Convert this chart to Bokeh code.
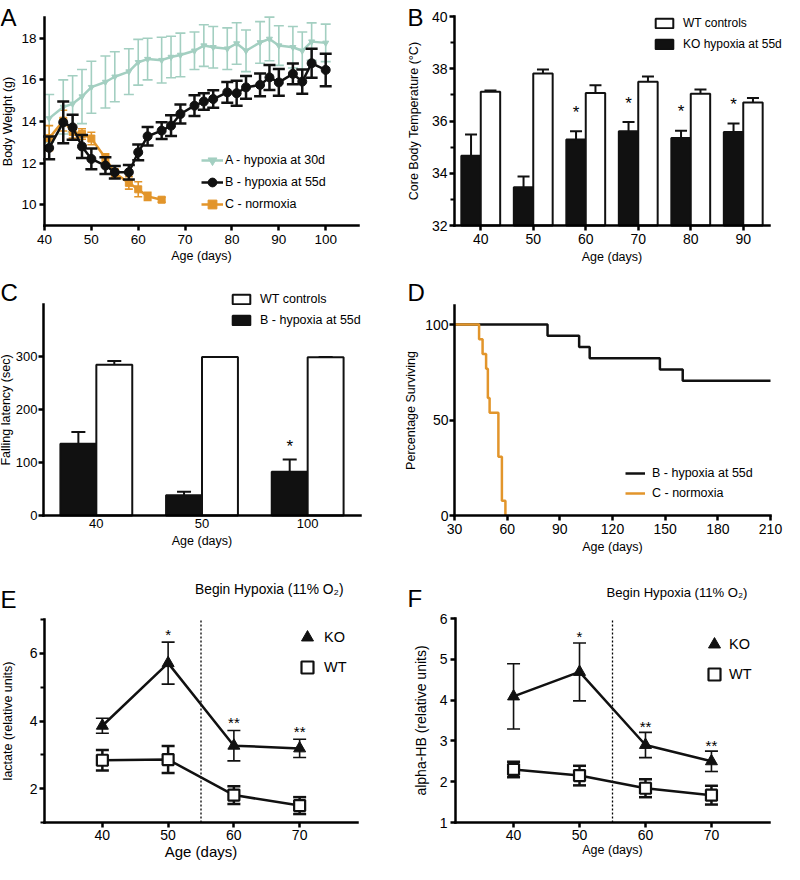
import numpy as np
from bokeh.plotting import figure
from bokeh.models import (ColumnDataSource, Whisker, TeeHead, Legend, LegendItem,
                          Label, FixedTicker, Range1d)
from bokeh.transform import dodge
from bokeh.layouts import column, row
from bokeh.embed import file_html
from bokeh.resources import INLINE
from bokeh.core.properties import value

FONT = "Liberation Sans"
TEAL = "#a3cfc1"
ORANGE = "#e2952b"
INK = "#111111"

# ---------------- Panel A: body weight ----------------
weight_days = [41, 44, 46, 48, 50, 53, 55, 58, 60, 62, 65, 67, 69, 72, 74, 76, 79, 81, 83, 86, 88, 90, 93, 95, 97, 100]
weight_a = [14.15, 14.7, 14.85, 15.2, 15.65, 15.9, 16.15, 16.4, 16.85, 17.0, 16.95, 17.1, 17.2,
            17.4, 17.65, 17.57, 17.5, 17.75, 17.4, 17.8, 17.97, 17.65, 17.57, 17.4, 17.84, 17.78]
weight_a_sem = [1.15, 1.3, 1.35, 1.3, 1.25, 1.25, 1.2, 1.1, 1.1, 1.0, 1.1, 1.0, 1.05,
                0.9, 1.0, 1.0, 1.0, 1.0, 1.0, 1.0, 1.05, 0.95, 1.0, 0.9, 0.9, 0.9]
weight_b = [12.73, 13.96, 13.72, 12.8, 12.2, 11.88, 11.56, 11.56, 12.52, 13.29, 13.56, 13.8, 14.36,
            14.76, 14.96, 15.08, 15.4, 15.36, 15.64, 15.76, 16.12, 15.88, 16.29, 15.92, 16.8, 16.48]
weight_b_sem = [0.55, 1.0, 0.6, 0.55, 0.5, 0.4, 0.3, 0.35, 0.38, 0.44, 0.4, 0.5, 0.46,
                0.5, 0.4, 0.42, 0.5, 0.6, 0.55, 0.55, 0.6, 0.64, 0.5, 0.58, 0.7, 0.78]
weight_days_c = [41, 44, 46, 48, 50, 53, 55, 58, 60, 62, 65]
weight_c = [13.2, 14.04, 13.5, 13.4, 13.18, 12.25, 11.52, 11.05, 10.74, 10.4, 10.24]
weight_c_sem = [0.6, 0.5, 0.3, 0.25, 0.3, 0.2, 0.2, 0.3, 0.36, 0.2, 0.12]
weight_xlim = (40, 107)
weight_ylim = (9, 19)
weight_xticks = [40, 50, 60, 70, 80, 90, 100]
weight_yticks = [10, 12, 14, 16, 18]

# ---------------- Panel B: core body temperature ----------------
temp_ages = [40, 50, 60, 70, 80, 90]
temp_wt = [37.12, 37.82, 37.07, 37.5, 37.04, 36.71]
temp_wt_sem = [0.05, 0.15, 0.3, 0.2, 0.17, 0.17]
temp_ko = [34.67, 33.46, 35.29, 35.61, 35.35, 35.58]
temp_ko_sem = [0.81, 0.42, 0.32, 0.35, 0.28, 0.32]
temp_sig = ["", "", "*", "*", "*", "*"]
temp_xlim = (35, 95)
temp_ylim = (32, 40)
temp_yticks = [32, 34, 36, 38, 40]
temp_yminor = [33, 35, 37, 39]

# ---------------- Panel C: falling latency ----------------
lat_ages = ["40", "50", "100"]
lat_wt = [285.0, 300.0, 299.4]
lat_wt_sem = [7.0, 0.0, 0.6]
lat_ko = [135.8, 38.5, 82.7]
lat_ko_sem = [22.0, 6.3, 23.0]
lat_sig = ["", "", "*"]
lat_ylim = (0, 400)
lat_yticks = [0, 100, 200, 300]

# ---------------- Panel D: survival ----------------
surv_b_days = [30, 83, 101, 107, 147, 160, 210]
surv_b_pct = [100, 94.1, 88.2, 82.4, 76.5, 70.6, 70.6]
surv_c_days = [30, 44, 46, 48, 49, 50, 55, 57, 59]
surv_c_pct = [100, 92.3, 84.6, 76.9, 61.5, 53.8, 30.8, 7.7, 0]
surv_xlim = (30, 210)
surv_ylim = (0, 110)
surv_xticks = [30, 60, 90, 120, 150, 180, 210]
surv_yticks = [0, 50, 100]

# ---------------- Panels E / F: metabolites ----------------
met_days = [40, 50, 60, 70]
met_xlim = (31.2, 78.8)
hypoxia_start = 55
lac_ko = [3.86, 5.71, 3.27, 3.19]
lac_ko_sem = [0.22, 0.62, 0.45, 0.27]
lac_wt = [2.84, 2.86, 1.81, 1.5]
lac_wt_sem = [0.3, 0.4, 0.26, 0.25]
lac_ylim = (1, 7)
ahb_ko = [4.09, 4.69, 2.9, 2.5]
ahb_ko_sem = [0.8, 0.71, 0.31, 0.25]
ahb_wt = [2.3, 2.15, 1.84, 1.67]
ahb_wt_sem = [0.19, 0.24, 0.22, 0.23]
ahb_ylim = (1, 6)
met_sig = ["", "*", "**", "**"]
met_xticks = [40, 50, 60, 70]


class Panel:
    """A figure whose frame fills the whole canvas; the axes sit at fixed data
    locations so that letters, legends and notes around them are not clipped."""

    def __init__(self, ox, oy, W, H, box, xlim, ylim):
        l, r, t, b = box
        sx = (xlim[1] - xlim[0]) / (r - l)
        sy = (ylim[1] - ylim[0]) / (b - t)
        xr = Range1d(xlim[0] - (l - ox) * sx, xlim[1] + (ox + W - r) * sx)
        yr = Range1d(ylim[0] - (oy + H - b) * sy, ylim[1] + (t - oy) * sy)
        p = figure(width=W, height=H, x_range=xr, y_range=yr,
                   output_backend="svg", toolbar_location=None,
                   min_border=0, min_border_left=0, min_border_right=0,
                   min_border_top=0, min_border_bottom=0)
        p.outline_line_color = None
        p.xgrid.grid_line_color = None
        p.ygrid.grid_line_color = None
        p.background_fill_color = "white"
        p.border_fill_color = "white"
        p.xaxis.fixed_location = ylim[0]
        p.xaxis.bounds = xlim
        p.yaxis.fixed_location = xlim[0]
        p.yaxis.bounds = ylim
        self.p, self.ox, self.oy, self.H = p, ox, oy, H

    def sx(self, x):
        return x - self.ox

    def sy(self, y):
        return self.oy + self.H - y


def style_axes(p, xlabel, ylabel, tick_px, xlabel_px, ylabel_px,
               x_std=(3, 3), y_std=(2, 8)):
    p.xaxis.axis_label = xlabel
    p.yaxis.axis_label = ylabel
    for ax, lpx, std in ((p.xaxis[0], xlabel_px, x_std), (p.yaxis[0], ylabel_px, y_std)):
        ax.axis_line_width = 2.5
        ax.axis_line_color = "black"
        ax.axis_line_cap = "square"
        ax.major_tick_line_width = 2.5
        ax.major_tick_line_color = "black"
        ax.major_tick_out = 5
        ax.major_tick_in = 0
        ax.minor_tick_line_width = 2
        ax.minor_tick_line_color = "black"
        ax.minor_tick_out = 4
        ax.minor_tick_in = 0
        ax.major_label_text_font = FONT
        ax.major_label_text_font_size = tick_px
        ax.major_label_text_color = "black"
        ax.major_label_standoff = std[0]
        ax.axis_label_text_font = FONT
        ax.axis_label_text_font_size = lpx
        ax.axis_label_text_font_style = "normal"
        ax.axis_label_text_color = "black"
        ax.axis_label_standoff = std[1]


def add_letter(P, txt, rx, ry):
    P.p.add_layout(Label(x=P.sx(rx), y=P.sy(ry), x_units="screen", y_units="screen", text=txt,
                         text_font=FONT, text_font_size="24px", text_color="black",
                         text_baseline="alphabetic", text_align="left"))


def add_legend(P, items, rx, ry, gw, gh, lh, spacing, standoff, font_px):
    lg = Legend(items=items, location=(P.sx(rx), P.sy(ry)), glyph_width=gw, glyph_height=gh,
                label_height=lh, spacing=spacing, label_standoff=standoff,
                padding=0, margin=0, border_line_color=None,
                background_fill_alpha=0, label_text_font=FONT,
                label_text_font_size=font_px, label_text_color="black")
    P.p.add_layout(lg)


def whisker(p, src, base, lower, upper, color, lw, cap, level="annotation", lower_cap=True):
    w = Whisker(source=src, base=base, lower=lower, upper=upper, dimension="height",
                line_color=color, line_width=lw, level=level,
                upper_head=TeeHead(size=cap, line_color=color, line_width=lw),
                lower_head=TeeHead(size=cap, line_color=color, line_width=lw) if lower_cap else None)
    p.add_layout(w)


# ======================= Panel A =======================
PA = Panel(8, 8, 392, 270, (52, 366, 25, 233), weight_xlim, weight_ylim)
pA = PA.p
style_axes(pA, "Age (days)", "Body Weight (g)", "13.5px", "12.5px", "12.5px",
           x_std=(4, 2), y_std=(3, 3))
pA.xaxis.ticker = FixedTicker(ticks=weight_xticks)
pA.yaxis.ticker = FixedTicker(ticks=weight_yticks)

wa = np.array(weight_a); wae = np.array(weight_a_sem)
wb = np.array(weight_b); wbe = np.array(weight_b_sem)
wc = np.array(weight_c); wce = np.array(weight_c_sem)
srcA = ColumnDataSource(dict(x=weight_days, y=wa, lo=wa - wae, hi=wa + wae))
srcB = ColumnDataSource(dict(x=weight_days, y=wb, lo=wb - wbe, hi=wb + wbe))
srcC = ColumnDataSource(dict(x=weight_days_c, y=wc, lo=wc - wce, hi=wc + wce))

whisker(pA, srcA, "x", "lo", "hi", TEAL, 1.6, 10, level="underlay")
la = pA.line("x", "y", source=srcA, line_color=TEAL, line_width=2.5)
ma = pA.scatter("x", "y", source=srcA, marker="inverted_triangle", size=6,
                fill_color=TEAL, line_color=TEAL)
whisker(pA, srcC, "x", "lo", "hi", ORANGE, 1.6, 8, level="underlay")
lc = pA.line("x", "y", source=srcC, line_color=ORANGE, line_width=2.5)
mc = pA.scatter("x", "y", source=srcC, marker="square", size=7,
                fill_color=ORANGE, line_color=ORANGE)
whisker(pA, srcB, "x", "lo", "hi", INK, 2.5, 12)
lb = pA.line("x", "y", source=srcB, line_color=INK, line_width=2.5)
mb = pA.scatter("x", "y", source=srcB, marker="circle", size=9,
                fill_color=INK, line_color=INK)
add_legend(PA, [LegendItem(label="A - hypoxia at 30d", renderers=[la, ma]),
                LegendItem(label="B - hypoxia at 55d", renderers=[lb, mb]),
                LegendItem(label="C - normoxia", renderers=[lc, mc])],
           209, 223, 22, 22, 22, -3, 2, "12.5px")
add_letter(PA, "A", 8, 25)

# ======================= Panel B =======================
PB = Panel(400, 8, 392, 270, (462, 777, 24, 233), temp_xlim, temp_ylim)
pB = PB.p
style_axes(pB, "Age (days)", "Core Body Temperature (°C)", "14px", "12.5px", "12.5px",
           x_std=(3, 3), y_std=(2, 8))
pB.xaxis.ticker = FixedTicker(ticks=temp_ages)
pB.yaxis.ticker = FixedTicker(ticks=temp_yticks, minor_ticks=temp_yminor)
tko = np.array(temp_ko); twt = np.array(temp_wt)
srcT = ColumnDataSource(dict(age=temp_ages, ko=tko, ko_hi=tko + np.array(temp_ko_sem),
                             wt=twt, wt_hi=twt + np.array(temp_wt_sem), sig=temp_sig))
ko_x = dodge("age", -1.85)
wt_x = dodge("age", 1.85)
rb_ko = pB.vbar(x=ko_x, top="ko", bottom=temp_ylim[0], width=3.7, source=srcT,
                fill_color=INK, line_color=INK, line_width=2)
rb_wt = pB.vbar(x=wt_x, top="wt", bottom=temp_ylim[0], width=3.7, source=srcT,
                fill_color="white", line_color=INK, line_width=2)
whisker(pB, srcT, ko_x, "ko", "ko_hi", INK, 2, 12, lower_cap=False)
whisker(pB, srcT, wt_x, "wt", "wt_hi", INK, 2, 12, lower_cap=False)
pB.text(x=ko_x, y="ko_hi", text="sig", source=srcT, text_font=value(FONT),
        text_font_size="17px", text_align="center", text_baseline="alphabetic",
        y_offset=-19, text_color="black")
add_legend(PB, [LegendItem(label="WT controls", renderers=[rb_wt]),
                LegendItem(label="KO hypoxia at 55d", renderers=[rb_ko])],
           661, 59, 22, 12, 12, 7, 8, "12px")
add_letter(PB, "B", 415, 25)

# ======================= Panel C =======================
lat_pos = list(range(len(lat_ages)))
PC = Panel(8, 278, 392, 292, (51, 368, 311.5, 523), (lat_pos[0] - 0.5, lat_pos[-1] + 0.5), lat_ylim)
pC = PC.p
style_axes(pC, "Age (days)", "Falling latency (sec)", "13px", "12.5px", "12.5px",
           x_std=(3, 3), y_std=(1, 0))
pC.xaxis.ticker = FixedTicker(ticks=lat_pos)
overrides = {}
for i, lab in zip(lat_pos, lat_ages):
    overrides[i] = lab
    overrides[str(i)] = lab
pC.xaxis.major_label_overrides = overrides
pC.yaxis.ticker = FixedTicker(ticks=lat_yticks)
pC.xaxis.major_tick_out = 0
lko = np.array(lat_ko); lwt = np.array(lat_wt)
srcL = ColumnDataSource(dict(pos=lat_pos, ko=lko, ko_hi=lko + np.array(lat_ko_sem),
                             wt=lwt, wt_hi=lwt + np.array(lat_wt_sem), sig=lat_sig))
cko_x = dodge("pos", -0.17)
cwt_x = dodge("pos", 0.17)
rc_ko = pC.vbar(x=cko_x, top="ko", bottom=lat_ylim[0], width=0.34, source=srcL,
                fill_color=INK, line_color=INK, line_width=2)
rc_wt = pC.vbar(x=cwt_x, top="wt", bottom=lat_ylim[0], width=0.34, source=srcL,
                fill_color="white", line_color=INK, line_width=2)
whisker(pC, srcL, cko_x, "ko", "ko_hi", INK, 2, 14, lower_cap=False)
whisker(pC, srcL, cwt_x, "wt", "wt_hi", INK, 2, 14, lower_cap=False)
pC.text(x=cko_x, y="ko_hi", text="sig", source=srcL, text_font=value(FONT),
        text_font_size="17px", text_align="center", text_baseline="alphabetic",
        y_offset=-13, text_color="black")
add_legend(PC, [LegendItem(label="WT controls", renderers=[rc_wt]),
                LegendItem(label="B - hypoxia at 55d", renderers=[rc_ko])],
           238, 335, 22, 12, 12, 7, 8, "12.5px")
add_letter(PC, "C", 8, 300)

# ======================= Panel D =======================
PD = Panel(400, 278, 392, 292, (462, 778, 313, 523), surv_xlim, surv_ylim)
pD = PD.p
style_axes(pD, "Age (days)", "Percentage Surviving", "14px", "12.5px", "12.5px",
           x_std=(3, 3), y_std=(1, 4))
pD.xaxis.ticker = FixedTicker(ticks=surv_xticks)
pD.yaxis.ticker = FixedTicker(ticks=surv_yticks)
sd_b = pD.step(x=surv_b_days, y=surv_b_pct, mode="after", line_color=INK, line_width=2.5)
sd_c = pD.step(x=surv_c_days, y=surv_c_pct, mode="after", line_color=ORANGE, line_width=2.5)
add_legend(PD, [LegendItem(label="B - hypoxia at 55d", renderers=[sd_b]),
                LegendItem(label="C - normoxia", renderers=[sd_c])],
           633, 511, 20, 20, 20, 0, 7, "12.5px")
add_letter(PD, "D", 415, 300)


# ======================= Panels E, F =======================
def metabolite_panel(ox, box, ylab, ylim, yticks, yminor, ko, ko_sem, wt, wt_sem,
                     xlabel_px, ylabel_px, y_std, sig_off, leg_xy, leg_standoff,
                     letter, letter_xy, note_y, note_px):
    P = Panel(ox, 570, 392, 302, box, met_xlim, ylim)
    p = P.p
    style_axes(p, "Age (days)", ylab, "14px", xlabel_px, ylabel_px,
               x_std=(2, 0), y_std=y_std)
    p.xaxis.ticker = FixedTicker(ticks=met_xticks)
    p.yaxis.ticker = FixedTicker(ticks=yticks, minor_ticks=yminor)
    k = np.array(ko); ke = np.array(ko_sem)
    w = np.array(wt); we = np.array(wt_sem)
    sk = ColumnDataSource(dict(x=met_days, y=k, lo=k - ke, hi=k + ke, sig=met_sig))
    sw = ColumnDataSource(dict(x=met_days, y=w, lo=w - we, hi=w + we))
    p.segment(x0=[hypoxia_start], y0=[ylim[0]], x1=[hypoxia_start], y1=[ylim[1]],
              line_color="black", line_width=1.3, line_dash="2 2")
    whisker(p, sk, "x", "lo", "hi", INK, 1.6, 13, level="underlay")
    whisker(p, sw, "x", "lo", "hi", INK, 2.5, 13, level="underlay")
    p.line("x", "y", source=sk, line_color=INK, line_width=2.5)
    p.line("x", "y", source=sw, line_color=INK, line_width=2.5)
    rk = p.scatter("x", "y", source=sk, marker="triangle", size=12,
                   fill_color=INK, line_color=INK)
    rw = p.scatter("x", "y", source=sw, marker="square", size=11,
                   fill_color="white", line_color=INK, line_width=2.2)
    p.text(x="x", y="hi", text="sig", source=sk, text_font=value(FONT),
           text_font_size="15px", text_align="center", text_baseline="alphabetic",
           y_offset=sig_off, text_color="black")
    add_legend(P, [LegendItem(label="KO", renderers=[rk]),
                   LegendItem(label="WT", renderers=[rw])],
               leg_xy[0], leg_xy[1], 30, 30, 30, -11, leg_standoff, "14.5px")
    p.add_layout(Label(x=hypoxia_start, y=P.sy(note_y), x_units="data", y_units="screen",
                       x_offset=-6, text="Begin Hypoxia (11% O\u2082)", text_font=FONT,
                       text_font_size=note_px, text_color="black",
                       text_baseline="middle", text_align="left"))
    add_letter(P, letter, letter_xy[0], letter_xy[1])
    return p


pE = metabolite_panel(8, (52, 365, 627, 830), "lactate (relative units)", lac_ylim,
                      [2, 4, 6], [1, 3, 5, 7], lac_ko, lac_ko_sem, lac_wt, lac_wt_sem,
                      "15px", "12.5px", (2, 12), -8, (300, 690), 2, "E", (8, 607), 597, "13.8px")
pF = metabolite_panel(400, (463, 777, 626, 830), "alpha-HB (relative units)", ahb_ylim,
                      [1, 2, 3, 4, 5, 6], [], ahb_ko, ahb_ko_sem, ahb_wt, ahb_wt_sem,
                      "12.5px", "14px", (3, 8), -6, (707, 697), 0, "F", (415, 606), 600, "13.1px")

layout = column(row(pA, pB), row(pC, pD), row(pE, pF))
open("out.html", "w").write(file_html(layout, INLINE))
